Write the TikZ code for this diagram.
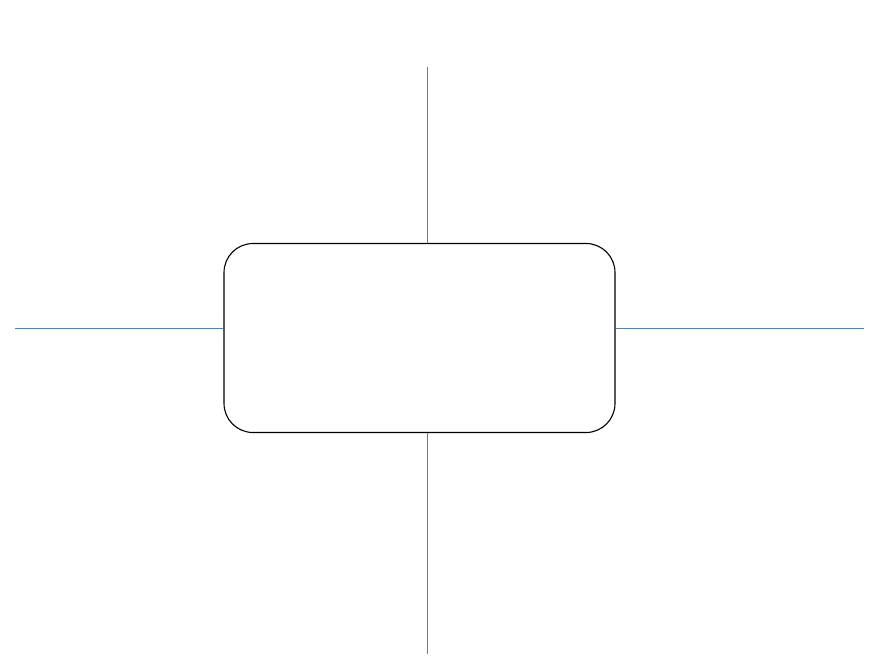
\documentclass[tikz,border=0pt]{standalone}
\begin{document}
\begin{tikzpicture}[x=1pt,y=-1pt,
  boxstyle/.style={draw=black,line width=1.1pt,rounded corners=29pt,minimum width=391pt,minimum height=189pt,inner sep=0pt},
  linkstyle/.style={draw={rgb,255:red,79;green,129;blue,189},line width=0.8pt}]
\useasboundingbox[fill=white] (0,0) rectangle (880,660);
\node[boxstyle] (box) at (419.5,338) {};
\coordinate (t) at (427,67);
\coordinate (b) at (427,654);
\coordinate (l) at (15,328);
\coordinate (r) at (864,328);
\draw[linkstyle] (t) -- (t |- box.north);
\draw[linkstyle] (b) -- (b |- box.south);
\draw[linkstyle] (l) -- (l -| box.west);
\draw[linkstyle] (r) -- (r -| box.east);
\end{tikzpicture}
\end{document}
